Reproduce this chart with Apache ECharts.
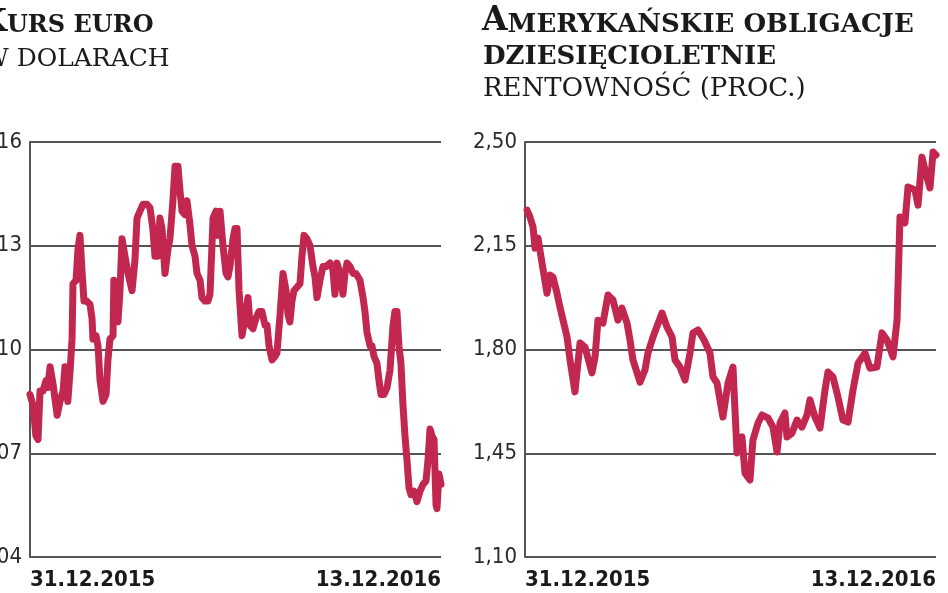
<!DOCTYPE html>
<html><head><meta charset="utf-8">
<script src="https://cdn.jsdelivr.net/npm/echarts@6/dist/echarts.min.js"></script>
<style>html,body{margin:0;padding:0;background:#fff}#c{width:948px;height:593px}</style>
</head><body><div id="c"></div>
<script>
// ---- data (day offset from 31.12.2015, value) ----
const startLabel = '31.12.2015';
const endLabel = '13.12.2016';
const totalDays = 348;

const eurDays = [0,2.5,5,6.8,8.5,11,13.5,15,17,19.5,
23,25.4,28,29.6,32,34,35.6,36.4,39,40.6,
42.3,44,45.7,48,50.8,52.5,53.3,55.9,57.6,59.3,
61.8,64.4,66,67.7,70.3,71,72.8,74.5,76.2,77.9,
80.4,83,86.4,88.9,90.6,93.1,95.7,99,101.6,104,
105.8,108.4,110,111.8,114.3,116.8,118.5,121,122.8,125.3,
127,128.7,131.2,132.9,135.5,137.2,139.7,141.4,144,145.6,
148.2,150.7,152.4,155,157.5,159.2,160.9,163.4,166,167.6,
169.3,171.9,173.6,175.3,177,179.5,182,184.6,186.3,188.8,
191.3,193.9,196.4,199,200.7,202.4,204.9,207.4,209.1,211.7,
214.2,216.8,218.5,220.1,221.8,223.5,226,228.6,230.3,232,
234.5,237.1,239.6,241.3,243,245.5,248.1,250.6,254,256.5,
258.2,259.9,262.5,265,266.7,268.4,271,273.5,276,279.4,
282,283.6,285.3,287.9,289.6,291.3,293.8,295.5,297.2,299.7,
302.3,304.8,307.4,309,310.7,312.4,314.1,315.8,317.5,319.2,
320.9,322.6,325.1,327.7,330.2,332.8,335.3,337,338.7,340.4,
342.1,343.8,344.6,346.3,348];
const eurValues = [1.087,1.084,1.075,1.074,1.088,1.088,1.091,1.089,1.095,1.090,
1.081,1.085,1.088,1.095,1.085,1.094,1.103,1.119,1.120,1.129,
1.133,1.123,1.114,1.114,1.113,1.109,1.103,1.104,1.101,1.091,
1.085,1.087,1.097,1.103,1.104,1.120,1.117,1.108,1.117,1.132,
1.127,1.122,1.117,1.126,1.138,1.140,1.142,1.142,1.141,1.135,
1.127,1.127,1.138,1.135,1.122,1.129,1.132,1.143,1.153,1.153,
1.146,1.140,1.139,1.143,1.136,1.130,1.127,1.122,1.120,1.115,
1.114,1.114,1.116,1.138,1.140,1.133,1.140,1.130,1.122,1.121,
1.124,1.132,1.135,1.135,1.117,1.104,1.109,1.115,1.107,1.106,
1.109,1.111,1.111,1.107,1.107,1.101,1.097,1.098,1.099,1.110,
1.122,1.117,1.110,1.108,1.114,1.117,1.118,1.119,1.127,1.133,
1.132,1.130,1.124,1.121,1.115,1.120,1.124,1.124,1.125,1.123,
1.116,1.125,1.122,1.116,1.122,1.125,1.124,1.122,1.122,1.120,
1.115,1.111,1.105,1.101,1.101,1.098,1.096,1.091,1.087,1.087,
1.089,1.094,1.107,1.111,1.111,1.101,1.096,1.084,1.075,1.068,
1.060,1.058,1.059,1.056,1.059,1.061,1.062,1.068,1.077,1.075,
1.074,1.055,1.054,1.064,1.061];
const eurTicks = [1.04, 1.07, 1.10, 1.13, 1.16];

const bondDays = [1.7,4.2,6.8,8.5,11.0,14.4,18.6,21.2,23.7,27.1,
29.6,32.2,35.6,38.1,42.3,46.6,50.8,56.7,59.3,61.8,
66.0,70.3,74.5,78.7,82.1,86.4,88.9,91.4,97.4,101.6,
104.1,108.4,116.0,120.2,124.5,127.0,131.2,135.5,139.7,142.2,
146.5,151.6,156.6,159.2,162.6,167.6,171.9,176.1,179.5,183.7,
186.3,190.5,193.0,197.3,200.7,205.7,210.0,213.4,215.9,220.1,
221.8,226.1,230.3,234.5,238.8,241.3,245.5,249.8,254.0,256.5,
260.8,265.0,269.2,273.5,277.7,282.0,287.9,292.1,298.0,302.3,
306.5,311.6,315.0,317.5,321.7,324.3,330.2,332.8,336.1,338.7,
342.9,345.5,348];
const bondValues = [2.270,2.247,2.213,2.142,2.176,2.092,1.990,2.051,2.044,1.990,
1.943,1.899,1.842,1.765,1.657,1.822,1.808,1.721,1.775,1.899,
1.889,1.984,1.967,1.899,1.940,1.889,1.832,1.765,1.690,1.731,
1.788,1.842,1.923,1.876,1.842,1.765,1.741,1.697,1.788,1.856,
1.866,1.832,1.788,1.707,1.687,1.572,1.687,1.741,1.451,1.505,
1.383,1.360,1.495,1.552,1.579,1.569,1.538,1.454,1.552,1.586,
1.505,1.518,1.562,1.538,1.579,1.630,1.572,1.535,1.663,1.724,
1.707,1.640,1.562,1.555,1.663,1.754,1.788,1.737,1.741,1.856,
1.832,1.775,1.899,2.247,2.227,2.348,2.338,2.287,2.449,2.405,
2.345,2.466,2.456];
const bondTicks = [1.10, 1.45, 1.80, 2.15, 2.50];

// ---- chart ----
const LINE = '#c2284f';
const GRID = '#555';
const serif = "'DejaVu Serif', serif";
const axisFont = "'DejaVu Sans Condensed', 'DejaVu Sans', sans-serif";
const dateFont = "'DejaVu Sans Condensed', 'DejaVu Sans', sans-serif";

function yAxisFor(ticks, gi) {
  const base = ticks[0];
  const step = +(ticks[1] - ticks[0]).toFixed(4);
  const span = +(ticks[ticks.length - 1] - base).toFixed(4);
  return {
    type: 'value', gridIndex: gi, min: 0, max: span, interval: step,
    axisLine: { show: true, lineStyle: { color: GRID, width: 2 } },
    axisTick: { show: false },
    splitLine: { show: true, lineStyle: { color: GRID, width: 2 } },
    axisLabel: {
      margin: 8, color: '#2a2a2a', fontFamily: axisFont, fontSize: 22,
      formatter: v => (v + base).toFixed(2).replace('.', ',')
    }
  };
}
function xAxisFor(gi) {
  return {
    type: 'value', gridIndex: gi, min: 0, max: totalDays, interval: totalDays,
    axisLine: { show: false }, axisTick: { show: false }, splitLine: { show: false },
    axisLabel: {
      margin: 12, color: '#1a1a1a', fontFamily: dateFont, fontSize: 22, fontWeight: 'bold',
      showMinLabel: true, showMaxLabel: true, alignMinLabel: 'left', alignMaxLabel: 'right',
      formatter: v => (v <= 0 ? startLabel : endLabel)
    }
  };
}
function seriesFor(days, vals, base, gi) {
  return {
    type: 'line', xAxisIndex: gi, yAxisIndex: gi, symbol: 'none', smooth: false,
    lineStyle: { color: LINE, width: 7, cap: 'round', join: 'round' },
    data: days.map((d, i) => [d, +(vals[i] - base).toFixed(4)])
  };
}
function capRich(big, small) {
  return {
    a: { fontFamily: serif, fontWeight: 'bold', fontSize: big, color: '#1a1a1a', verticalAlign: 'bottom', lineHeight: 34 },
    b: { fontFamily: serif, fontWeight: 'bold', fontSize: small, color: '#1a1a1a', verticalAlign: 'bottom', lineHeight: 34 }
  };
}
const option = {
  animation: false,
  backgroundColor: '#fff',
  title: [
    { text: '{a|K}{b|URS EURO}', left: -20, top: 4, padding: 0, textStyle: { rich: capRich(31, 24) } },
    { text: 'W DOLARACH', left: -17, top: 47, padding: 0, textStyle: { fontFamily: serif, fontWeight: 'normal', fontSize: 25, color: '#1a1a1a' } },
    { text: '{a|A}{b|MERYKAŃSKIE OBLIGACJE}', left: 482, top: 4, padding: 0, textStyle: { rich: capRich(33, 26) } },
    { text: 'DZIESIĘCIOLETNIE', left: 483, top: 44, padding: 0, textStyle: { fontFamily: serif, fontWeight: 'bold', fontSize: 26, color: '#1a1a1a' } },
    { text: 'RENTOWNOŚĆ (PROC.)', left: 483, top: 76, padding: 0, textStyle: { fontFamily: serif, fontWeight: 'normal', fontSize: 26, color: '#1a1a1a' } }
  ],
  grid: [
    { left: 30, top: 142, width: 411, height: 415, containLabel: false, outerBoundsMode: 'none' },
    { left: 525, top: 142, width: 411, height: 415, containLabel: false, outerBoundsMode: 'none' }
  ],
  xAxis: [xAxisFor(0), xAxisFor(1)],
  yAxis: [yAxisFor(eurTicks, 0), yAxisFor(bondTicks, 1)],
  series: [
    seriesFor(eurDays, eurValues, eurTicks[0], 0),
    seriesFor(bondDays, bondValues, bondTicks[0], 1)
  ]
};
const chart = echarts.init(document.getElementById('c'), null, { renderer: 'canvas' });
chart.setOption(option);
</script>
</body></html>
